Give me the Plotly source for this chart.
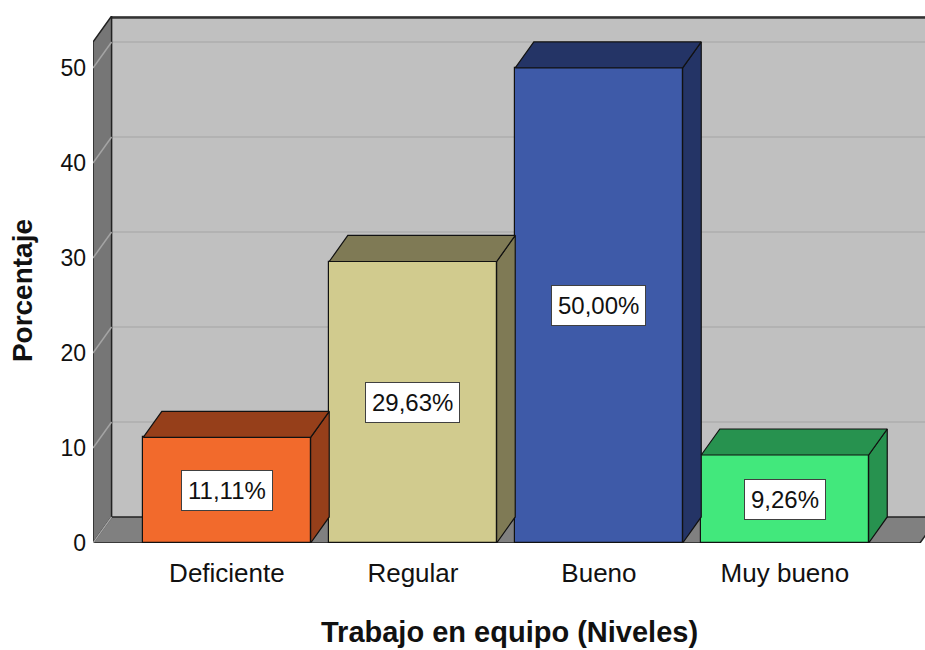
import plotly.graph_objects as go

# ---- data ----
categories = ["Deficiente", "Regular", "Bueno", "Muy bueno"]
percentages = [11.11, 29.63, 50.00, 9.26]
y_ticks = [0, 10, 20, 30, 40, 50]
x_title = "Trabajo en equipo (Niveles)"
y_title = "Porcentaje"

front_colors = ["#F26A2C", "#D1CB8E", "#3E5AA8", "#42E87C"]
shade_colors = ["#963F1A", "#7F7A55", "#243466", "#27924F"]

# ---- geometry (axis units) ----
FONT = "Liberation Sans, Arial, sans-serif"
X_MIN, X_MAX = -0.72, 3.753
Y_MAX = 55.47
DX, DY = 0.1, 2.74          # depth offset for pseudo-3D
HALF_W = 0.45
FLOOR_END = 3.726

fig = go.Figure()

# front faces of bars
fig.add_trace(go.Bar(
    x=list(range(len(categories))), y=percentages, width=2 * HALF_W,
    marker=dict(color=front_colors, line=dict(color="#111111", width=1.2)),
    hoverinfo="skip", showlegend=False,
))

# top and side faces
for i, (v, sc) in enumerate(zip(percentages, shade_colors)):
    x0, x1 = i - HALF_W, i + HALF_W
    fig.add_trace(go.Scatter(
        x=[x1, x1 + DX, x1 + DX, x1, x1], y=[0, DY, v + DY, v, 0],
        mode="lines", fill="toself", fillcolor=sc,
        line=dict(color="#111111", width=1.2), hoverinfo="skip", showlegend=False))
    fig.add_trace(go.Scatter(
        x=[x0, x0 + DX, x1 + DX, x1, x0], y=[v, v + DY, v + DY, v, v],
        mode="lines", fill="toself", fillcolor=sc,
        line=dict(color="#111111", width=1.2), hoverinfo="skip", showlegend=False))

shapes = []
shapes.append(dict(type="rect", xref="x", yref="y", layer="below",
                   x0=X_MIN + DX, x1=X_MAX + 0.5, y0=DY, y1=Y_MAX,
                   fillcolor="#C0C0C0", line=dict(width=0)))
shapes.append(dict(type="line", xref="x", yref="y", layer="below",
                   x0=X_MIN + DX, x1=X_MAX + 0.5, y0=Y_MAX - 0.15, y1=Y_MAX - 0.15,
                   line=dict(color="#333333", width=2.5)))
for t in y_ticks[1:]:
    shapes.append(dict(type="line", xref="x", yref="y", layer="below",
                       x0=X_MIN + DX, x1=X_MAX + 0.5, y0=t + DY, y1=t + DY,
                       line=dict(color="#B2B2B2", width=2)))
lw = (f"M {X_MIN} 0 L {X_MIN + DX} {DY} L {X_MIN + DX} {Y_MAX} "
      f"L {X_MIN} {Y_MAX - DY} Z")
shapes.append(dict(type="path", xref="x", yref="y", layer="below", path=lw,
                   fillcolor="#767676", line=dict(color="#222222", width=1.5)))
for t in y_ticks[1:]:
    shapes.append(dict(type="line", xref="x", yref="y", layer="below",
                       x0=X_MIN, x1=X_MIN + DX, y0=t, y1=t + DY,
                       line=dict(color="#A4A4A4", width=1.5)))
fl = (f"M {X_MIN} 0 L {FLOOR_END} 0 L {FLOOR_END + DX} {DY} "
      f"L {X_MIN + DX} {DY} Z")
shapes.append(dict(type="path", xref="x", yref="y", layer="below", path=fl,
                   fillcolor="#808080", line=dict(color="#222222", width=1.5)))
shapes.append(dict(type="line", xref="x", yref="y", layer="below",
                   x0=X_MIN + DX, x1=X_MIN, y0=DY, y1=0,
                   line=dict(color="#A4A4A4", width=1.5)))

annotations = []
for i, v in enumerate(percentages):
    annotations.append(dict(
        x=i, y=v / 2, xref="x", yref="y", showarrow=False,
        text=f"{v:.2f}%".replace(".", ","),
        font=dict(family=FONT, size=24, color="#111111"),
        bgcolor="white", bordercolor="#404040", borderwidth=1, borderpad=6))

annotations.append(dict(
    x=0.5, y=-0.168, xref="paper", yref="paper", showarrow=False,
    text=f"<b>{x_title}</b>", font=dict(family=FONT, size=29, color="#111111"),
    xanchor="center", yanchor="middle"))
annotations.append(dict(
    x=-0.0853, y=0.478, xref="paper", yref="paper", showarrow=False,
    text=f"<b>{y_title}</b>", textangle=-90,
    font=dict(family=FONT, size=28, color="#111111"),
    xanchor="center", yanchor="middle"))

fig.update_layout(
    width=925, height=650,
    margin=dict(l=93, r=0, t=16, b=107),
    paper_bgcolor="white", plot_bgcolor="white",
    shapes=shapes, annotations=annotations,
    showlegend=False, hovermode=False, bargap=0,
    xaxis=dict(range=[X_MIN, X_MAX], tickvals=list(range(len(categories))),
               ticktext=categories, showgrid=False, zeroline=False,
               showline=False, ticks="", ticklabelstandoff=12,
               tickfont=dict(family=FONT, size=26, color="#111111"),
               fixedrange=True),
    yaxis=dict(range=[0, Y_MAX], tickvals=y_ticks, showgrid=False,
               zeroline=False, showline=False, ticks="", ticklabelstandoff=6,
               tickfont=dict(family=FONT, size=23, color="#111111"),
               fixedrange=True),
)

fig.write_html(
    "out.html",
    post_script="document.body.style.margin='0px';document.body.style.overflow='hidden';",
    config={"displayModeBar": False},
)
